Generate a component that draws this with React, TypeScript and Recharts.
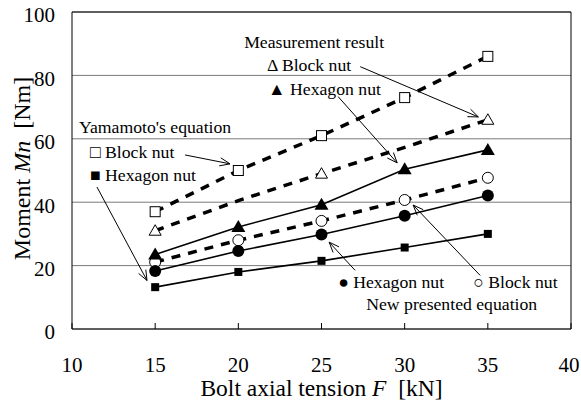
import React from 'react'
import { LineChart, Line, XAxis, YAxis, CartesianGrid, ReferenceLine, ReferenceDot } from 'recharts'

const tension = [15, 20, 25, 30, 35]
const yamamotoBlock = [37, 50, 61, 73, 86]
const yamamotoHexagon = [13.2, 18, 21.5, 25.7, 30]
const measuredBlockLine = [31, 40.5, 49, 57.3, 66]
const measuredBlockPoints = [31, null, 49, null, 66]
const measuredHexagon = [23.5, 32.2, 39.2, 50.4, 56.5]
const newHexagon = [18.3, 24.6, 29.8, 35.7, 42.1]
const newBlock = [21.1, 28, 34.1, 40.7, 47.7]
const xTicks = [10, 15, 20, 25, 30, 35, 40]
const yTicks = [0, 20, 40, 60, 80, 100]

const data = tension.map((t, i) => ({
  t,
  yamamotoBlock: yamamotoBlock[i],
  yamamotoHexagon: yamamotoHexagon[i],
  measuredBlockLine: measuredBlockLine[i],
  measuredBlockPoints: measuredBlockPoints[i],
  measuredHexagon: measuredHexagon[i],
  newHexagon: newHexagon[i],
  newBlock: newBlock[i],
}))

// annotation text, anchored in data coordinates (left edge, baseline)
const notes = [
  { x: 20.35, y: 88.8, text: 'Measurement result' },
  { x: 21.73, y: 81.5, text: '\u0394 Block nut' },
  { x: 21.79, y: 73.9, text: '\u25B2 Hexagon nut' },
  { x: 10.42, y: 61.9, text: "Yamamoto's equation" },
  { x: 11.08, y: 54.0, text: '\u25A1 Block nut' },
  { x: 11.08, y: 46.7, text: '\u25A0 Hexagon nut' },
  { x: 26.0, y: 12.8, text: '\u25CF Hexagon nut' },
  { x: 34.12, y: 12.8, text: '\u25CB Block nut' },
  { x: 27.69, y: 5.85, text: 'New presented equation' },
]

const arrows = [
  { from: [27.33, 82.75], to: [34.43, 66.9] },
  { from: [26.0, 73.3], to: [29.55, 52.4] },
  { from: [16.8, 54.9], to: [19.5, 52.1] },
  { from: [11.5, 44.8], to: [14.51, 15.3] },
  { from: [27.02, 18.5], to: [25.46, 27.4] },
  { from: [34.54, 16.9], to: [30.51, 39.1] },
]

const FONT = "'Liberation Serif', 'Times New Roman', serif"
const serif = { fontFamily: FONT }

const makeDot = (kind: string) => (props: any) => {
  const { cx, cy, value, index } = props
  if (value == null || cx == null || cy == null) return <g key={index} />
  switch (kind) {
    case 'openSquare':
      return <rect key={index} x={cx - 5} y={cy - 5} width={10} height={10} fill="#fff" stroke="#000" strokeWidth={1} />
    case 'filledSquare':
      return <rect key={index} x={cx - 4} y={cy - 4} width={8} height={8} fill="#000" />
    case 'openTriangle':
      return <polygon key={index} points={`${cx},${cy - 6} ${cx - 6},${cy + 4.5} ${cx + 6},${cy + 4.5}`} fill="#fff" stroke="#000" strokeWidth={1} />
    case 'filledTriangle':
      return <polygon key={index} points={`${cx},${cy - 7} ${cx - 7},${cy + 5} ${cx + 7},${cy + 5}`} fill="#000" />
    case 'openCircle':
      return <circle key={index} cx={cx} cy={cy} r={5.5} fill="#fff" stroke="#000" strokeWidth={1} />
    default:
      return <circle key={index} cx={cx} cy={cy} r={6} fill="#000" />
  }
}

const Arrow = (props: any) => {
  const { x1, y1, x2, y2 } = props
  const a = Math.atan2(y2 - y1, x2 - x1)
  const len = 11
  const spread = 0.38
  const p1 = [x2 - len * Math.cos(a - spread), y2 - len * Math.sin(a - spread)]
  const p2 = [x2 - len * Math.cos(a + spread), y2 - len * Math.sin(a + spread)]
  return (
    <g>
      <line x1={x1} y1={y1} x2={x2} y2={y2} stroke="#000" strokeWidth={1} />
      <polyline points={`${p1[0]},${p1[1]} ${x2},${y2} ${p2[0]},${p2[1]}`} fill="none" stroke="#000" strokeWidth={1} />
    </g>
  )
}

const XTick = (props: any) => (
  <text x={props.x} y={props.y} dy="0.35em" dx={props.payload.value === 40 ? -2 : 0} textAnchor="middle" style={serif} fontSize={21} fill="#000">
    {props.payload.value}
  </text>
)

const YTick = (props: any) => (
  <text x={props.x} y={props.y + 3} dy="0.35em" textAnchor="end" style={serif} fontSize={21} fill="#000">
    {props.payload.value}
  </text>
)

const YTitle = (props: any) => {
  const { viewBox } = props
  const cx = 22
  const cy = viewBox.y + viewBox.height / 2 - 2
  return (
    <text x={cx} y={cy} transform={`rotate(-90, ${cx}, ${cy})`} textAnchor="middle" dy="0.35em" style={serif} fontSize={24} fill="#000">
      Moment <tspan fontStyle="italic">Mn</tspan>{'\u00a0 [Nm]'}
    </text>
  )
}

const XTitle = (props: any) => {
  const { viewBox } = props
  const cx = viewBox.x + viewBox.width / 2
  return (
    <text x={cx} y={396} textAnchor="middle" style={serif} fontSize={23.5} fill="#000">
      Bolt axial tension <tspan fontStyle="italic">F</tspan>{'\u00a0 [kN]'}
    </text>
  )
}

export default function App() {
  return (
    <div style={{ position: 'absolute', left: 0, top: 0, width: 581, height: 401, background: '#fff', fontFamily: FONT }}>
      <LineChart width={581} height={401} data={data} margin={{ top: 12, right: 10, left: 8, bottom: 0 }}>
        <CartesianGrid horizontal vertical={false} stroke="#7a7a7a" strokeWidth={1} />
        <XAxis
          dataKey="t"
          type="number"
          domain={[10, 40]}
          ticks={xTicks}
          height={72}
          stroke="#000"
          tickSize={-6}
          tickMargin={42}
          tick={<XTick />}
          label={<XTitle />}
        />
        <YAxis
          type="number"
          domain={[0, 100]}
          ticks={yTicks}
          width={64}
          stroke="#000"
          tickLine={false}
          tickMargin={11}
          tick={<YTick />}
          label={<YTitle />}
        />
        <ReferenceLine y={100} stroke="#000" strokeWidth={1} />
        <ReferenceLine x={40} stroke="#000" strokeWidth={1} />

        <Line dataKey="yamamotoBlock" stroke="#000" strokeWidth={3.5} strokeDasharray="9 8" dot={makeDot('openSquare')} isAnimationActive={false} />
        <Line dataKey="measuredBlockLine" stroke="#000" strokeWidth={3.5} strokeDasharray="9 8" dot={false} isAnimationActive={false} />
        <Line dataKey="measuredBlockPoints" stroke="none" dot={makeDot('openTriangle')} isAnimationActive={false} />
        <Line dataKey="newBlock" stroke="#000" strokeWidth={3.5} strokeDasharray="9 8" dot={makeDot('openCircle')} isAnimationActive={false} />
        <Line dataKey="yamamotoHexagon" stroke="#000" strokeWidth={1.6} dot={makeDot('filledSquare')} isAnimationActive={false} />
        <Line dataKey="measuredHexagon" stroke="#000" strokeWidth={1.6} dot={makeDot('filledTriangle')} isAnimationActive={false} />
        <Line dataKey="newHexagon" stroke="#000" strokeWidth={1.6} dot={makeDot('filledCircle')} isAnimationActive={false} />

        {arrows.map((a, i) => (
          <ReferenceLine
            key={'a' + i}
            segment={[{ x: a.from[0], y: a.from[1] }, { x: a.to[0], y: a.to[1] }]}
            shape={<Arrow />}
          />
        ))}
        {notes.map((n, i) => (
          <ReferenceDot
            key={'n' + i}
            x={n.x}
            y={n.y}
            shape={(p: any) => (
              <text x={p.cx} y={p.cy} style={{ ...serif, whiteSpace: 'pre' }} fontSize={17.7} fill="#000">
                {n.text}
              </text>
            )}
          />
        ))}
      </LineChart>
    </div>
  )
}
